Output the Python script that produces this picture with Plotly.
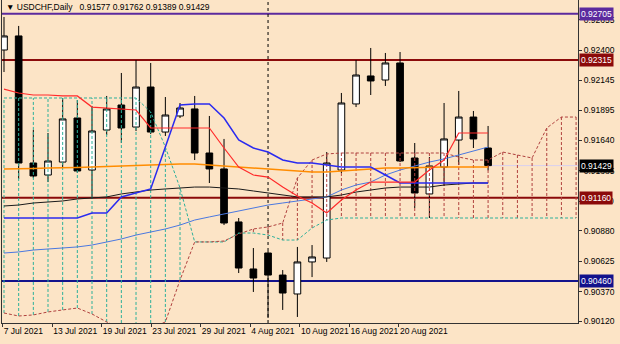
import plotly.graph_objects as go

# ---------------- data ----------------
bars = list(range(1, 35))
opens = [0.92400, 0.92518, 0.91451, 0.91350, 0.91459, 0.91829, 0.91392, 0.91728, 0.91938, 0.91753,
         0.92089, 0.91711, 0.91846, 0.91905, 0.91535, 0.91401, 0.90956, 0.90561, 0.90695, 0.90510,
         0.90351, 0.90620, 0.90653, 0.91392, 0.91947, 0.92182, 0.92148, 0.92291, 0.91493, 0.91191,
         0.91417, 0.91644, 0.91837, 0.91577]
highs = [0.92677, 0.92602, 0.91728, 0.91703, 0.91997, 0.91980, 0.91930, 0.92014, 0.92207, 0.92316,
         0.92291, 0.92005, 0.91955, 0.92014, 0.91846, 0.91653, 0.90989, 0.90737, 0.90712, 0.90552,
         0.90746, 0.90762, 0.91543, 0.92039, 0.92316, 0.92417, 0.92375, 0.92383, 0.91619, 0.91501,
         0.91955, 0.92056, 0.91888, 0.91762]
lows = [0.92215, 0.91317, 0.91325, 0.91291, 0.91417, 0.91367, 0.91149, 0.91686, 0.91619, 0.91720,
        0.91694, 0.91678, 0.91829, 0.91476, 0.91283, 0.90930, 0.90527, 0.90368, 0.90149, 0.90217,
        0.90158, 0.90493, 0.90620, 0.91367, 0.91921, 0.92022, 0.92098, 0.91459, 0.91073, 0.90989,
        0.91258, 0.91434, 0.91577, 0.91389]
closes = [0.92518, 0.91451, 0.91342, 0.91468, 0.91821, 0.91384, 0.91720, 0.91905, 0.91745, 0.92089,
          0.91711, 0.91854, 0.91913, 0.91535, 0.91401, 0.90947, 0.90569, 0.90485, 0.90510, 0.90359,
          0.90620, 0.90662, 0.91451, 0.91955, 0.92190, 0.92140, 0.92291, 0.91468, 0.91199, 0.91426,
          0.91653, 0.91837, 0.91653, 0.91429]

tenkan = [0.92072, 0.92039, 0.92022, 0.92022, 0.92014, 0.92014, 0.91921, 0.91913, 0.91905, 0.91896,
          0.91745, 0.91745, 0.91745, 0.91745, 0.91745, 0.91577, 0.91417, 0.91350, 0.91333, 0.91249,
          0.91174, 0.91115, 0.91031, 0.91140, 0.91224, 0.91291, 0.91291, 0.91291, 0.91291, 0.91392,
          0.91476, 0.91703, 0.91703, 0.91703]
kijun = [0.90989, 0.90989, 0.90989, 0.90989, 0.90989, 0.90989, 0.91031, 0.91031, 0.91166, 0.91199,
         0.91233, 0.91585, 0.91938, 0.91947, 0.91947, 0.91829, 0.91644, 0.91577, 0.91543, 0.91476,
         0.91451, 0.91451, 0.91434, 0.91417, 0.91417, 0.91417, 0.91350, 0.91283, 0.91283, 0.91283,
         0.91283, 0.91283, 0.91283, 0.91283]

span_x = list(range(1, 41))
span_a = [0.90191, 0.90166, 0.90175, 0.90200, 0.90217, 0.90233, 0.90183, 0.90116, 0.90065, 0.90049,
          0.90065, 0.90116, 0.90468, 0.90788, 0.90788, 0.90796, 0.90855, 0.90897, 0.90914, 0.90947,
          0.91325, 0.91476, 0.91527, 0.91535, 0.91535, 0.91535, 0.91535, 0.91535, 0.91535, 0.91535,
          0.91535, 0.91501, 0.91476, 0.91476, 0.91543, 0.91518, 0.91493, 0.91745, 0.91837, 0.91837]
span_b = [0.91997, 0.91997, 0.91997, 0.91997, 0.91997, 0.91997, 0.91997, 0.91997, 0.91997, 0.91997,
          0.91879, 0.91585, 0.91241, 0.90788, 0.90788, 0.90788, 0.90863, 0.90863, 0.90846, 0.90804,
          0.90804, 0.90905, 0.90972, 0.90989, 0.90989, 0.90989, 0.90989, 0.90989, 0.90989, 0.90989,
          0.90989, 0.90989, 0.90989, 0.90989, 0.90989, 0.90989, 0.90989, 0.90989, 0.90989, 0.90989]

ma_orange = [0.91401, 0.91401, 0.91405, 0.91409, 0.91409, 0.91413, 0.91417, 0.91422, 0.91426, 0.91426,
             0.91434, 0.91438, 0.91443, 0.91443, 0.91434, 0.91426, 0.91417, 0.91409, 0.91401, 0.91392,
             0.91384, 0.91375, 0.91375, 0.91384, 0.91392, 0.91401, 0.91409, 0.91409, 0.91413, 0.91413,
             0.91417, 0.91417, 0.91417, 0.91417]
ma_black = [0.91090, 0.91098, 0.91115, 0.91123, 0.91132, 0.91149, 0.91157, 0.91166, 0.91191, 0.91207,
            0.91224, 0.91233, 0.91241, 0.91249, 0.91249, 0.91241, 0.91233, 0.91216, 0.91199, 0.91182,
            0.91166, 0.91166, 0.91166, 0.91182, 0.91207, 0.91224, 0.91241, 0.91249, 0.91249, 0.91249,
            0.91266, 0.91275, 0.91283, 0.91283]
ma_blue = [0.90695, 0.90704, 0.90720, 0.90729, 0.90737, 0.90746, 0.90762, 0.90788, 0.90813, 0.90846,
           0.90872, 0.90897, 0.90930, 0.90972, 0.90998, 0.91023, 0.91048, 0.91073, 0.91098, 0.91115,
           0.91132, 0.91149, 0.91166, 0.91224, 0.91266, 0.91291, 0.91350, 0.91392, 0.91426, 0.91459,
           0.91485, 0.91518, 0.91552, 0.91585]

level_prices = [0.92705, 0.92315, 0.91160, 0.90460]
level_labels = ["0.92705", "0.92315", "0.91160", "0.90460"]
level_colors = ["#5B2A9E", "#8B0A0A", "#8B0A0A", "#12128C"]
bid_price = 0.91429
bid_label = "0.91429"

price_ticks = [0.92655, 0.92400, 0.92145, 0.91895, 0.91640, 0.91385, 0.91130,
               0.90880, 0.90625, 0.90370, 0.90120]
price_tick_text = ["0.92655", "0.92400", "0.92145", "0.91895", "0.91640", "0.91385",
                   "0.91130", "0.90880", "0.90625", "0.90370", "0.90120"]
date_labels = ["7 Jul 2021", "13 Jul 2021", "19 Jul 2021", "23 Jul 2021", "29 Jul 2021",
               "4 Aug 2021", "10 Aug 2021", "16 Aug 2021", "20 Aug 2021"]
month_separator_bar = 19
header = "\u25bc USDCHF,Daily\u00a0\u00a0 0.91577 0.91762 0.91389 0.91429"

# ---------------- layout params ----------------
X_RANGE = [0.864, 40.13]
Y_RANGE = [0.901073, 0.928199]
tick_start, tick_step = 0.91, 3.377
BG = "#FCE4C6"
FONT = "Liberation Sans, Arial, sans-serif"
TEAL = "#2CB09A"
BROWN = "#B0413E"

fig = go.Figure()

# Ichimoku cloud hatching
hx_t, hy_t, hx_b, hy_b = [], [], [], []
for x, a, b in zip(span_x, span_a, span_b):
    if b >= a:
        hx_t += [x, x, None]; hy_t += [a, b, None]
    else:
        hx_b += [x, x, None]; hy_b += [a, b, None]
for hx, hy, col in ((hx_t, hy_t, TEAL), (hx_b, hy_b, BROWN)):
    fig.add_trace(go.Scatter(x=hx, y=hy, mode="lines", hoverinfo="skip", showlegend=False,
                             line=dict(color=col, width=1, dash="3px,2px")))
fig.add_trace(go.Scatter(x=span_x, y=span_b, mode="lines", hoverinfo="skip", showlegend=False,
                         line=dict(color=TEAL, width=1, dash="3px,2px")))
fig.add_trace(go.Scatter(x=span_x, y=span_a, mode="lines", hoverinfo="skip", showlegend=False,
                         line=dict(color=BROWN, width=1, dash="3px,2px")))

# moving averages
fig.add_trace(go.Scatter(x=bars, y=ma_blue, mode="lines", hoverinfo="skip", showlegend=False,
                         line=dict(color="#4A78E0", width=1)))
fig.add_trace(go.Scatter(x=bars, y=ma_black, mode="lines", hoverinfo="skip", showlegend=False,
                         line=dict(color="#1A1A1A", width=1)))
fig.add_trace(go.Scatter(x=bars, y=ma_orange, mode="lines", hoverinfo="skip", showlegend=False,
                         line=dict(color="#FF8C00", width=1.5)))
# tenkan / kijun
fig.add_trace(go.Scatter(x=bars, y=kijun, mode="lines", hoverinfo="skip", showlegend=False,
                         line=dict(color="#2A2AF0", width=1.5)))
fig.add_trace(go.Scatter(x=bars, y=tenkan, mode="lines", hoverinfo="skip", showlegend=False,
                         line=dict(color="#FF2A2A", width=1.2)))

# candles
fig.add_trace(go.Candlestick(
    x=bars, open=opens, high=highs, low=lows, close=closes,
    increasing=dict(line=dict(color="#000000", width=1), fillcolor="#FFFFFF"),
    decreasing=dict(line=dict(color="#000000", width=1), fillcolor="#000000"),
    whiskerwidth=0, hoverinfo="skip", showlegend=False))

shapes = []
for p, c in zip(level_prices, level_colors):
    shapes.append(dict(type="line", xref="paper", x0=0, x1=1, yref="y", y0=p, y1=p,
                       line=dict(color=c, width=2), layer="below"))
shapes.append(dict(type="line", xref="x", x0=bars[-1], x1=X_RANGE[1], yref="y",
                   y0=bid_price, y1=bid_price, line=dict(color="#D8D0F0", width=1), layer="below"))
shapes.append(dict(type="line", xref="x", x0=month_separator_bar, x1=month_separator_bar,
                   yref="paper", y0=0, y1=1, line=dict(color="#000000", width=1, dash="dot"),
                   layer="below"))

annotations = []
for p, t, c in list(zip(level_prices, level_labels, level_colors)) + [(bid_price, bid_label, "#000000")]:
    annotations.append(dict(xref="paper", x=1, xanchor="left", xshift=1, yref="y", y=p,
                            text=t, showarrow=False, bgcolor=c, borderpad=1,
                            font=dict(family=FONT, size=8.5, color="#FFFFFF")))
annotations.append(dict(xref="paper", x=0, xanchor="left", xshift=2, yref="paper", y=1,
                        yanchor="top", text=header, showarrow=False,
                        font=dict(family=FONT, size=8.5, color="#000000")))

fig.update_layout(
    width=620, height=344,
    margin=dict(l=2, r=42, t=0, b=21),
    paper_bgcolor=BG, plot_bgcolor=BG,
    boxgap=0.35,
    showlegend=False,
    shapes=shapes, annotations=annotations,
    xaxis=dict(range=X_RANGE, showgrid=False, zeroline=False, showline=True,
               linecolor="#333333", linewidth=1, ticks="outside", ticklen=3,
               tickcolor="#333333", tickangle=0, automargin=False,
               tickvals=[tick_start + k * tick_step for k in range(len(date_labels))],
               ticktext=date_labels, ticklabelposition="outside right",
               tickfont=dict(family=FONT, size=8.5, color="#000000"),
               rangeslider=dict(visible=False), fixedrange=True),
    yaxis=dict(range=Y_RANGE, side="right", showgrid=False, zeroline=False, showline=True,
               mirror=True, linecolor="#333333", linewidth=1, ticks="outside", ticklen=3,
               tickcolor="#333333", automargin=False,
               tickvals=price_ticks, ticktext=price_tick_text,
               tickfont=dict(family=FONT, size=8.5, color="#000000"), fixedrange=True),
)

fig.write_html("out.html")
